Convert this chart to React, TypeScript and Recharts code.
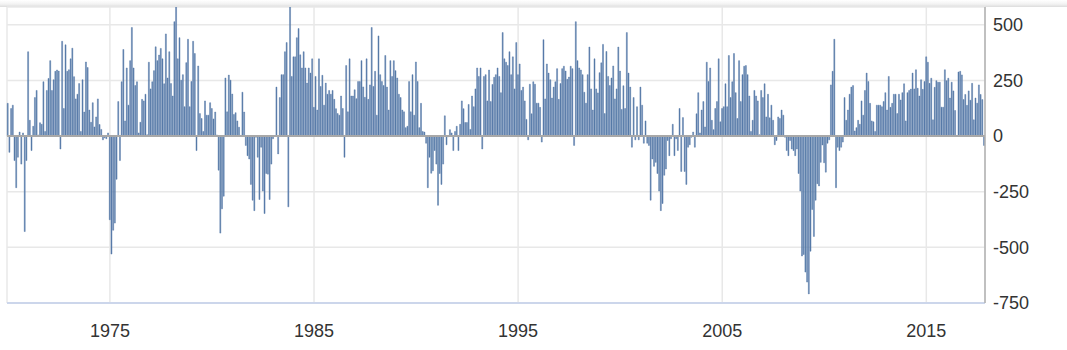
import React from 'react';
import { BarChart, Bar, XAxis, YAxis, CartesianGrid, ReferenceLine } from 'recharts';

// Monthly change in non-farm payrolls (thousands)
const seg1970to1975 = [
  147, -73, 124, 139, -110, -232, -95, 18, -126, 14,
  -429, -110, 379, 71, -65, 44, 173, 205, 5, 60,
  53, 244, 21, 205, 259, 339, 205, 253, 291, 297,
  292, -58, 426, 124, 410, 291, 298, 347, 395, 267,
  167, 188, 236, 21, 253, 108, 333, 308, 117, 62,
  150, 41, 86, 167, 52, 30, -17, -8, -12, 14,
  -376, -530, -423, -391, -194, 155, -110, 244, 389, 68,
  306, 139, 339, 488,
];
const seg1976to1981 = [
  306, 227, 244, 14, 62, 165, 158, 188, 6, 332,
  212, 244, 294, 401, 339, 364, 394, 347, 235, 459,
  261, 379, 236, 180, 514, 600, 347, 442, 251, 276,
  132, 330, 435, 132, 245, 426, 371, -65, 315, 101,
  79, 21, 158, 94, 94, 150, 124, 77, 108, 5,
  -153, -436, -327, -270, 261, 109, 274, 251, 189, 97,
  105, 68, 40, 3, 197, 108, -42, -88, -103, -217,
  -288,
];
const seg1982to1987 = [
  -335, -5, -95, -285, -50, -247, -348, -168, -171, -285,
  -126, -12, -2, 220, -80, 173, 276, 276, 379, 420,
  -318, 1114, 268, 356, 356, 442, 483, 365, 306, 379,
  306, 238, 306, 283, 347, 129, 268, 117, 347, 223,
  273, 139, 238, 188, 205, 188, 205, 165, 123, 101,
  94, 180, 124, -95, 317, 109, 347, 180, 180, 208,
  168, 245, 245, 339, 221, 174, 347, 165, 230, 488,
  223, 291,
];
const seg1988to1993 = [
  94, 450, 276, 245, 227, 362, 220, 117, 339, 268,
  339, 294, 261, 188, 173, 117, 109, 38, 44, 245,
  109, 276, 94, 333, 245, 38, 147, 21, 18, -32,
  -232, -95, -167, -156, -65, -126, -311, -168, -217, -126,
  91, -39, -3, 29, 14, -65, 21, 44, -65, 53,
  158, 123, 61, 61, 142, 30, 180, 132, 212, 306,
  268, 306, -58, 268, 276, 158, 297, 155, 232, 264,
  276,
];
const seg1994to1999 = [
  306, 268, 195, 465, 347, 332, 317, 379, 276, 356,
  212, 420, 276, 324, 205, 220, 158, 75, -17, 233,
  100, 244, 233, 148, 148, 129, -27, 433, 167, 324,
  283, 253, 171, 220, 244, 303, 165, 236, 303, 314,
  292, 255, 265, 314, 303, -42, 514, 339, 306, 297,
  276, 197, 148, 276, 400, 212, 117, 347, 212, 194,
  285, 329, 412, 101, 380, 268, 227, 261, 315, 167,
  212, 400, 292, 120, 226, 124,
];
const seg2000to2005 = [
  465, 283, 220, -50, 173, -17, 132, -17, 220, 139,
  -32, 68, -32, -42, -288, -103, -136, -118, -168, -247,
  -335, -303, -176, -148, -20, -88, -12, 53, -88, -12,
  -65, 124, -159, 83, -159, -217, -50, -39, -5, 18,
  -50, 100, 195, 14, 117, 155, 41, 332, 245, 306,
  71, 29, 124, 155, 347, 64, 124, 132, 235, 132,
  362, 173, 244, 371, 195, 79, 339, 155, 276, 314,
  317,
];
const seg2006to2011 = [
  276, 180, 21, 71, 205, 180, 158, 6, 205, 173,
  235, 86, 188, 82, 139, 71, -39, -20, 86, 79,
  117, 94, -5, -65, -88, -20, -58, -65, -88, -58,
  -168, -247, -539, -532, -611, -656, -709, -517, -330, -451,
  -288, -214, -224, -118, -40, -120, -162, -32, -17, 230,
  291, 435, -232, -50, -65, -50, -27, 173, 71, 117,
  188, 220, 227, 23, 38, 71, 53, 158, 94, 205,
  283, 245, 147,
];
const seg2012to2017 = [
  68, 64, 21, 139, 139, 139, 132, 155, 195, 117,
  268, 129, 147, 188, 188, 101, 188, 162, 195, 235,
  68, 195, 205, 211, 283, 212, 298, 215, 180, 253,
  210, 245,
  356, 332, 237, 260, 73, 219, 249, 242, 242, 130,
  130, 298, 249, 260, 171, 242, 203, 115, 3, 288,
  291, 275, 164, 187, 138, 203, 161, 237, 73, 171,
  148, 230, 187, 164, -42,
];

const firstYear = 1970;
const tickYears = ['1975', '1985', '1995', '2005', '2015'];
const yTicks = [-750, -500, -250, 0, 250, 500];

const values = [
  ...seg1970to1975, ...seg1976to1981, ...seg1982to1987, ...seg1988to1993,
  ...seg1994to1999, ...seg2000to2005, ...seg2006to2011, ...seg2012to2017,
];

const monthKey = (i: number) =>
  `${firstYear + Math.floor(i / 12)}-${String((i % 12) + 1).padStart(2, '0')}`;

const data = values.map((v, i) => ({ month: monthKey(i), change: v }));
const xTicks = tickYears.map((y) => `${y}-01`);

const font = { fontFamily: 'Arial, "Liberation Sans", sans-serif', fontSize: 18, fill: '#333' };

export default function App() {
  return (
    <div style={{ position: 'absolute', left: 0, top: 0, width: 1067, height: 350, background: '#fff' }}>
      <div
        style={{
          position: 'absolute', left: 0, top: 0, width: 1067, height: 7,
          background: 'linear-gradient(to bottom, #ffffff 0%, #f2f2f2 60%, #dcdcdc 100%)',
        }}
      />
      <BarChart
        width={1067}
        height={350}
        data={data}
        margin={{ top: 7, right: 7, bottom: 7, left: 7 }}
        barCategoryGap="12%"
      >
        <CartesianGrid stroke="#e8e8e8" strokeWidth={1.5} yAxisId="r" />
        <XAxis
          dataKey="month"
          ticks={xTicks}
          tickFormatter={(v: string) => v.slice(0, 4)}
          interval={0}
          tickLine={false}
          axisLine={{ stroke: '#ccd6eb', strokeWidth: 2 }}
          tick={font}
          tickMargin={15}
          height={40}
        />
        <YAxis
          yAxisId="l"
          orientation="left"
          width={0}
          domain={[-750, 580]}
          tick={false}
          tickLine={false}
          axisLine={{ stroke: '#c4c4c4', strokeWidth: 1.5 }}
        />
        <YAxis
          yAxisId="r"
          orientation="right"
          width={75}
          domain={[-750, 580]}
          ticks={yTicks}
          allowDataOverflow
          interval={0}
          tickLine={false}
          axisLine={{ stroke: '#b0b0b0', strokeWidth: 1.5 }}
          tick={font}
        />
        <ReferenceLine yAxisId="r" y={0} stroke="#a8a8a8" strokeWidth={2} />
        <Bar
          yAxisId="r"
          dataKey="change"
          fill="#5679a8"
          stroke="#5679a8"
          strokeWidth={0.45}
          isAnimationActive={false}
        />
      </BarChart>
    </div>
  );
}
